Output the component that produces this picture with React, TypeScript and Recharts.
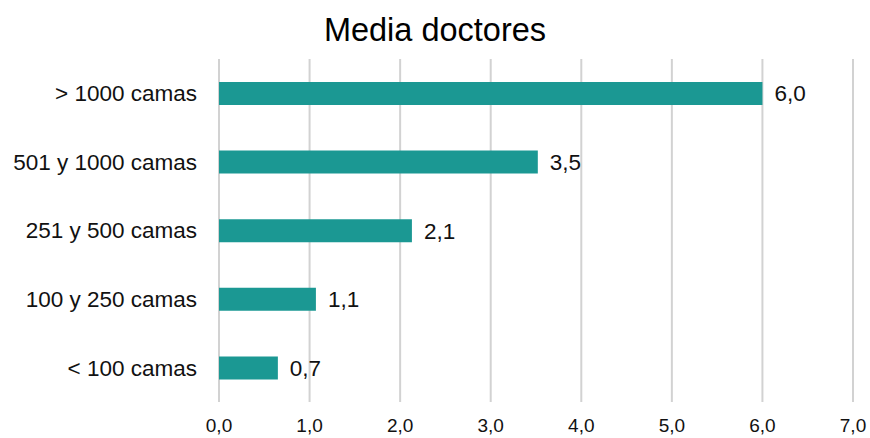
import React from 'react';
import { BarChart, Bar, XAxis, YAxis, CartesianGrid, LabelList } from 'recharts';

const categories = ['> 1000 camas', '501 y 1000 camas', '251 y 500 camas', '100 y 250 camas', '< 100 camas'];
const mediaDoctores = [6.0, 3.52, 2.13, 1.07, 0.65];
const xTicks = [0, 1, 2, 3, 4, 5, 6, 7];

const data = categories.map((name, i) => ({ name, value: mediaDoctores[i] }));

const fmt = (v: number) => v.toFixed(1).replace('.', ',');

const FONT = '"Liberation Sans", Arial, Helvetica, sans-serif';

const App: React.FC = () => {
  return (
    <div style={{ position: 'absolute', left: 0, top: 0, width: 870, height: 438, background: '#fff', fontFamily: FONT }}>
      <div
        style={{
          position: 'absolute',
          top: 11,
          left: 0,
          width: 870,
          textAlign: 'center',
          fontSize: 32.5,
          color: '#000',
          lineHeight: '38px',
        }}
      >
        Media doctores
      </div>
      <BarChart
        width={870}
        height={438}
        data={data}
        layout="vertical"
        margin={{ top: 59, right: 17, bottom: 0, left: 0 }}
        barCategoryGap={0}
      >
        <CartesianGrid horizontal={false} stroke="#d2d2d2" strokeWidth={2} />
        <XAxis
          type="number"
          domain={[0, 7]}
          ticks={xTicks}
          tickFormatter={fmt}
          axisLine={false}
          tickLine={false}
          tickSize={6}
          tickMargin={11}
          height={36}
          interval={0}
          tick={{ fontSize: 19, fill: '#111', fontFamily: FONT }}
        />
        <YAxis
          type="category"
          dataKey="name"
          width={219}
          axisLine={false}
          tickLine={false}
          tickSize={6}
          tickMargin={16}
          interval={0}
          tick={{ fontSize: 22.5, fill: '#111', fontFamily: FONT }}
        />
        <Bar dataKey="value" fill="#1b9893" barSize={23} isAnimationActive={false}>
          <LabelList
            dataKey="value"
            position="right"
            offset={12}
            formatter={(v: number) => fmt(v)}
            style={{ fontSize: 22.5, fill: '#111', fontFamily: FONT }}
          />
        </Bar>
      </BarChart>
    </div>
  );
};

export default App;
